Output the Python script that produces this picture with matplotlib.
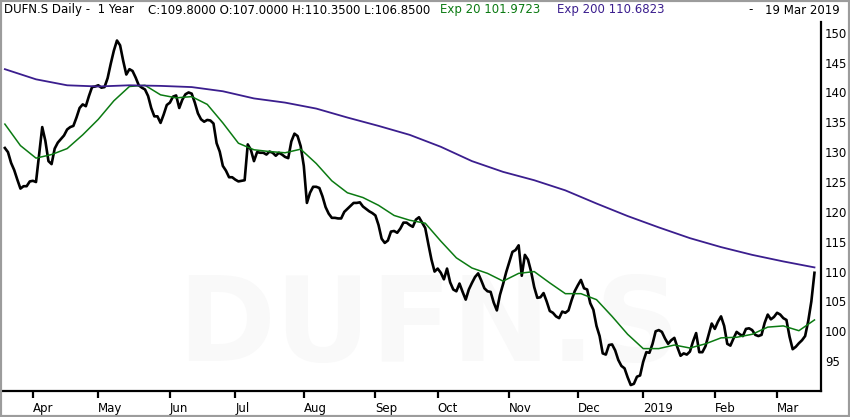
import numpy as np
import pandas as pd
import matplotlib
matplotlib.use("Agg")
import matplotlib.pyplot as plt
from matplotlib.patches import Rectangle

# trading days shown on the chart (one year to 19 Mar 2019)
dates = pd.bdate_range("2018-03-20", "2019-03-19")

close = [
    130.7, 130.0, 128.2, 127.0, 125.4, 123.9, 124.3, 124.3, 125.1, 125.2,
    125.0, 129.6, 134.2, 131.9, 128.5, 128.0, 130.6, 131.6, 132.2, 132.8,
    133.8, 134.2, 134.4, 135.8, 137.4, 138.0, 137.7, 139.4, 140.9, 141.0,
    141.2, 140.8, 140.9, 142.4, 144.8, 147.0, 148.7, 147.9, 145.3, 143.0,
    143.9, 143.6, 142.5, 141.2, 140.8, 140.5, 139.4, 137.4, 136.0, 136.0,
    134.9, 136.3, 137.9, 138.3, 139.3, 139.5, 137.4, 138.8, 139.7, 140.0,
    139.8, 138.3, 136.5, 135.5, 135.1, 135.4, 135.3, 134.8, 131.5, 130.1,
    127.7, 126.9, 125.8, 125.8, 125.4, 125.1, 125.2, 125.3, 131.3, 130.4,
    128.5, 130.0, 129.9, 129.9, 129.6, 130.1, 129.9, 129.4, 129.9, 129.6,
    129.2, 129.0, 131.8, 133.1, 132.7, 131.0, 127.7, 121.5, 123.2, 124.2,
    124.2, 124.0, 122.6, 120.8, 119.7, 119.0, 119.0, 118.9, 118.9, 120.0,
    120.5, 121.0, 121.5, 121.5, 121.6, 120.9, 120.5, 120.1, 119.8, 119.4,
    117.8, 115.5, 114.8, 115.2, 116.7, 116.8, 116.5, 117.2, 118.2, 118.2,
    117.8, 117.5, 118.7, 119.1, 118.2, 117.3, 114.6, 112.0, 110.0, 110.5,
    109.8, 108.7, 110.5, 108.2, 107.0, 106.7, 108.0, 106.6, 105.3, 107.0,
    108.1, 109.1, 109.7, 108.5, 107.2, 106.7, 106.6, 104.8, 103.5, 106.1,
    107.9, 109.9, 111.6, 113.3, 113.6, 114.4, 109.3, 112.8, 112.0, 110.0,
    107.4, 105.6, 105.7, 106.4, 105.0, 103.4, 103.1, 102.5, 102.2, 103.3,
    103.1, 103.5, 105.2, 106.7, 107.7, 108.6, 107.2, 107.0, 104.7, 103.6,
    100.9, 99.2, 96.3, 96.1, 97.7, 97.8, 96.8, 95.2, 94.2, 93.8,
    92.3, 91.0, 91.2, 92.4, 92.6, 94.9, 96.5, 96.4, 97.9, 100.0,
    100.2, 99.9, 98.8, 97.9, 98.5, 98.9, 97.3, 95.9, 96.3, 96.1,
    96.6, 98.3, 99.7, 96.5, 96.5, 97.5, 99.4, 101.3, 100.4, 101.6,
    102.5, 100.9, 97.9, 97.6, 98.8, 99.9, 99.5, 99.2, 100.4, 100.5,
    100.2, 99.4, 99.2, 99.4, 101.4, 102.8, 102.0, 102.4, 103.1, 102.8,
    102.2, 101.9, 99.1, 97.0, 97.4, 98.0, 98.5, 99.2, 101.7, 105.0,
    109.8,
]

# Exp 20 read every 5th trading day, Exp 200 every 10th
ema20 = [
    134.7, 131.1, 129.0, 129.6, 130.6, 132.9, 135.5, 138.6, 141.0, 141.2,
    139.6, 139.1, 139.3, 138.0, 134.9, 131.5, 130.4, 130.1, 129.9, 130.5,
    128.1, 125.2, 123.2, 122.4, 121.1, 119.4, 118.6, 118.1, 115.1, 112.3,
    110.6, 109.7, 108.4, 109.7, 110.0, 108.1, 106.3, 106.3, 105.3, 102.5,
    99.5, 97.1, 97.1, 97.7, 97.2, 97.9, 98.9, 99.0, 99.5, 100.7,
    100.9, 100.1, 101.9,
]
ema200 = [
    143.9, 142.2, 141.2, 141.0, 141.2, 141.1, 140.9, 140.2, 139.0, 138.3,
    137.3, 135.8, 134.4, 132.9, 130.9, 128.5, 126.7, 125.3, 123.6, 121.4,
    119.3, 117.4, 115.6, 114.1, 112.8, 111.7, 110.7,
]

month_labels = ["Apr", "May", "Jun", "Jul", "Aug", "Sep", "Oct", "Nov",
                "Dec", "2019", "Feb", "Mar"]
y_ticks = [95, 100, 105, 110, 115, 120, 125, 130, 135, 140, 145, 150]

W, H = 850, 417
fig = plt.figure(figsize=(W / 100, H / 100), dpi=100)
fig.patch.set_facecolor("white")

ax = fig.add_axes([3 / W, 26 / H, 818 / W, 369 / H])
ax.set_facecolor("white")

idx = np.arange(len(dates))
green = "#0b7a12"
purple = "#3b1e8e"

ax.text(0.52, 0.17, "DUFN.S", transform=ax.transAxes, ha="center", va="center",
        fontsize=85, fontweight="bold", color="#f9f9f9", zorder=0)

ax.plot(idx, close, color="black", lw=1.9, zorder=2)
ax.plot(idx[::5], ema20, color=green, lw=1.1, zorder=3)
ax.plot(idx[::10], ema200, color=purple, lw=1.3, zorder=3)

ax.set_xlim(-0.6, 262.1)
ax.set_ylim(90.0, 151.8)

# first trading day of each month from Apr 2018
s = pd.Series(idx, index=dates)
firsts = s.groupby([dates.year, dates.month]).first().values[1:]
ax.set_xticks(firsts)
ax.set_xticklabels(month_labels, ha="left", fontsize=8.5)
ax.tick_params(axis="x", direction="out", length=5, width=1.6, pad=3,
               color="black")

ax.yaxis.tick_right()
ax.set_yticks(y_ticks)
ax.set_yticklabels([str(v) for v in y_ticks], fontsize=8.5)
ax.tick_params(axis="y", length=0, pad=3)

for side in ["left", "top"]:
    ax.spines[side].set_visible(False)
for side in ["right", "bottom"]:
    ax.spines[side].set_linewidth(1.6)
    ax.spines[side].set_color("black")

# header
hy = 1 - 10 / H
fs = 8.5
fig.text(4 / W, hy, "DUFN.S Daily -  1 Year", fontsize=fs, va="center")
fig.text(148 / W, hy, "C:109.8000 O:107.0000 H:110.3500 L:106.8500",
         fontsize=fs, va="center")
fig.text(440 / W, hy, "Exp 20 101.9723", fontsize=fs, va="center", color=green)
fig.text(557 / W, hy, "Exp 200 110.6823", fontsize=fs, va="center", color=purple)
fig.text(748 / W, hy, "-", fontsize=fs, va="center")
fig.text(840 / W, hy, "19 Mar 2019", fontsize=fs, va="center", ha="right")

# grey frame round the picture
fig.add_artist(Rectangle((0, 0), 1, 1, transform=fig.transFigure, fill=False,
                         edgecolor="#9c9c9c", lw=3))

fig.savefig("out.png", dpi=100)
